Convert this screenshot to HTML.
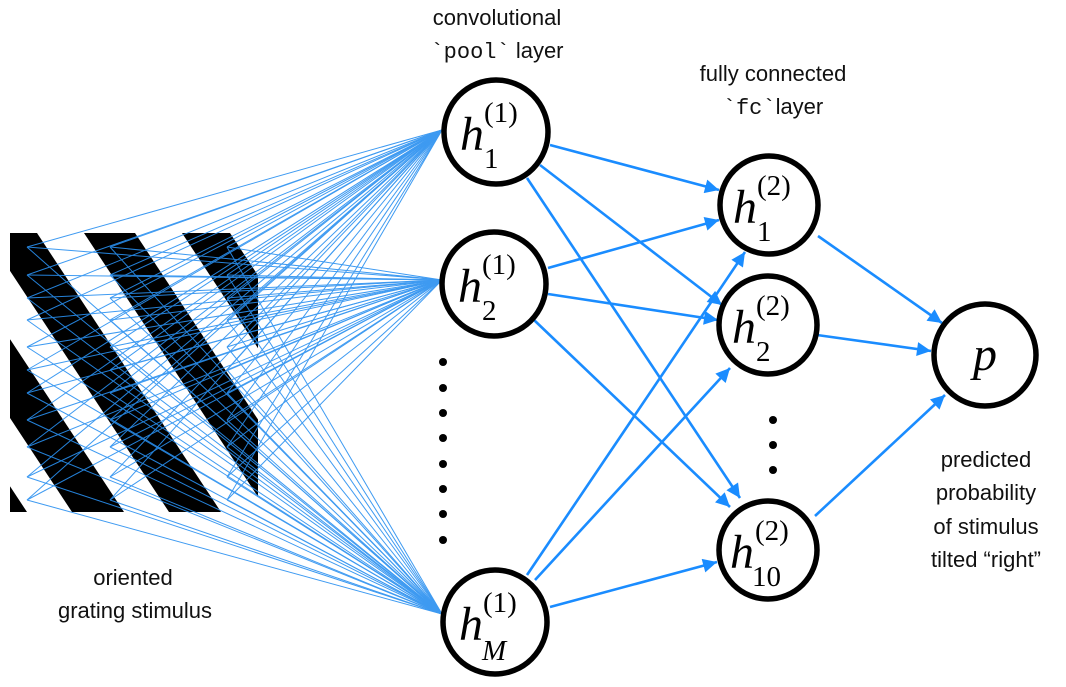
<!DOCTYPE html>
<html><head><meta charset="utf-8"><style>
html,body{margin:0;padding:0;background:#fff;}
svg{display:block;}
.t{font-family:"Liberation Sans",sans-serif;font-size:22px;fill:#111;text-anchor:middle;}
.m{font-family:"Liberation Mono",monospace;}
.h{font-family:"Liberation Serif",serif;font-style:italic;font-size:48px;fill:#000;}
.s{font-family:"Liberation Serif",serif;font-size:29px;fill:#000;}
</style></head><body>
<svg id="sv" width="1066" height="687" viewBox="0 0 1066 687" xmlns="http://www.w3.org/2000/svg">
<defs>
<clipPath id="gc"><rect x="10" y="233" width="248" height="279"/></clipPath>
<marker id="ar2" viewBox="0 0 10 10" refX="10" refY="5" markerWidth="16" markerHeight="14" orient="auto" markerUnits="userSpaceOnUse"><path d="M0,0 L10,5 L0,10 z" fill="#1a8cff"/></marker>
</defs>
<g clip-path="url(#gc)" fill="#000">
<polygon points="-207,233 -157,233 27,512 -23,512"/>
<polygon points="-112,233 -60,233 124,512 72,512"/>
<polygon points="-15,233 37,233 221,512 169,512"/>
<polygon points="84,233 135,233 319,512 268,512"/>
<polygon points="182,233 230,233 414,512 366,512"/>
</g>
<g id="src" stroke="#2a90f0" stroke-width="1" opacity="0.9"></g>
<g stroke="#1a8cff" stroke-width="2.6" fill="none" marker-end="url(#ar2)">
<line x1="550" y1="145" x2="719" y2="190"/>
<line x1="540" y1="165" x2="722" y2="305"/>
<line x1="527" y1="178" x2="740" y2="498"/>
<line x1="548" y1="268" x2="719" y2="220"/>
<line x1="548" y1="294" x2="718" y2="320"/>
<line x1="534" y1="320" x2="730" y2="507"/>
<line x1="527" y1="575" x2="745" y2="252"/>
<line x1="535" y1="580" x2="730" y2="368"/>
<line x1="550" y1="607" x2="717" y2="562"/>
<line x1="818" y1="236" x2="942" y2="323"/>
<line x1="817" y1="335" x2="931" y2="351"/>
<line x1="815" y1="516" x2="945" y2="395"/>
</g>
<g fill="#fff" stroke="#000" stroke-width="5.5">
<circle cx="496" cy="132" r="52"/>
<circle cx="494" cy="284" r="52"/>
<circle cx="495" cy="622" r="52"/>
<circle cx="769" cy="205" r="49"/>
<circle cx="768" cy="325" r="49"/>
<circle cx="768" cy="550" r="49"/>
<circle cx="985" cy="355" r="51"/>
</g>
<g fill="#000">
<circle cx="443" cy="362" r="4"/><circle cx="443" cy="388" r="4"/><circle cx="443" cy="413" r="4"/><circle cx="443" cy="438" r="4"/>
<circle cx="443" cy="464" r="4"/><circle cx="443" cy="489" r="4"/><circle cx="443" cy="514" r="4"/><circle cx="443" cy="540" r="4"/>
<circle cx="773" cy="420" r="4"/><circle cx="773" cy="445" r="4"/><circle cx="773" cy="470" r="4"/>
</g>
<text class="h" x="460" y="150">h</text><text class="s" x="484" y="122">(1)</text><text class="s" x="484" y="168">1</text>
<text class="h" x="458" y="302">h</text><text class="s" x="482" y="274">(1)</text><text class="s" x="482" y="320">2</text>
<text class="h" x="459" y="640">h</text><text class="s" x="483" y="612">(1)</text><text class="s" x="482" y="660" font-style="italic">M</text>
<text class="h" x="733" y="223">h</text><text class="s" x="757" y="195">(2)</text><text class="s" x="757" y="241">1</text>
<text class="h" x="732" y="343">h</text><text class="s" x="756" y="315">(2)</text><text class="s" x="756" y="361">2</text>
<text class="h" x="730" y="568">h</text><text class="s" x="755" y="540">(2)</text><text class="s" x="752" y="586">10</text>
<text class="h" x="985" y="370" text-anchor="middle">p</text>
<text class="t" x="497" y="25">convolutional</text>
<text class="t" x="497" y="58"><tspan class="m">`pool`</tspan> layer</text>
<text class="t" x="773" y="81">fully connected</text>
<text class="t" x="773" y="114"><tspan class="m">`fc`</tspan>layer</text>
<text class="t" x="133" y="585">oriented</text>
<text class="t" x="135" y="618">grating stimulus</text>
<text class="t" x="986" y="467">predicted</text>
<text class="t" x="986" y="500">probability</text>
<text class="t" x="986" y="534">of stimulus</text>
<text class="t" x="986" y="567">tilted “right”</text>
</svg>
<script>
var g=document.getElementById('src'),ns='http://www.w3.org/2000/svg';
var xs=[27,110,227],ys=[247,275,298,320,347,370,393,420,447,477,500],tg=[[442,130],[442,280],[442,614]];
xs.forEach(function(x){ys.forEach(function(y){tg.forEach(function(t){
var l=document.createElementNS(ns,'line');l.setAttribute('x1',x);l.setAttribute('y1',y);l.setAttribute('x2',t[0]);l.setAttribute('y2',t[1]);g.appendChild(l);});});});
</script>
</body></html>
